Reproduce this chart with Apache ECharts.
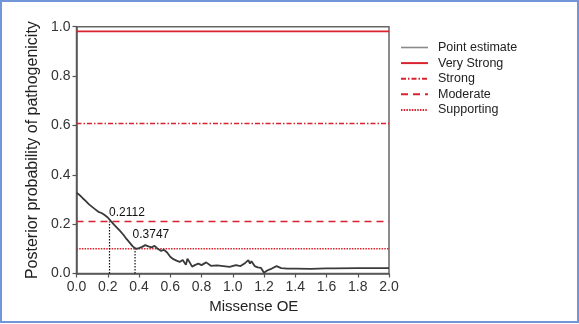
<!DOCTYPE html>
<html>
<head>
<meta charset="utf-8">
<script src="https://cdn.jsdelivr.net/npm/echarts@6/dist/echarts.min.js"></script>
<style>
  html, body { margin: 0; padding: 0; background: #ffffff; }
  #chart { width: 579px; height: 324px; }
</style>
</head>
<body>
<div id="chart"></div>
<script>
// Posterior probability of pathogenicity versus missense observed/expected ratio
const oeValues = [0, 0.01, 0.02, 0.03, 0.04, 0.05, 0.06, 0.07, 0.08, 0.09, 0.10, 0.12, 0.14, 0.16, 0.18, 0.20,
  0.22, 0.24, 0.26, 0.28, 0.30, 0.32, 0.34, 0.36, 0.38, 0.40, 0.42, 0.44, 0.46, 0.48, 0.50, 0.52, 0.54, 0.56,
  0.58, 0.60, 0.62, 0.64, 0.66, 0.68, 0.70, 0.71, 0.72, 0.74, 0.76, 0.78, 0.80, 0.83, 0.86, 0.90, 0.94, 0.98,
  1.02, 1.05, 1.08, 1.10, 1.11, 1.12, 1.14, 1.16, 1.18, 1.20, 1.22, 1.25, 1.28, 1.31, 1.35, 1.40, 1.50, 1.60,
  1.65, 1.80, 2.00];
const probValues = [0.327, 0.325, 0.318, 0.310, 0.305, 0.300, 0.293, 0.288, 0.280, 0.275, 0.270, 0.260, 0.250,
  0.245, 0.237, 0.227, 0.212, 0.198, 0.185, 0.172, 0.157, 0.140, 0.125, 0.110, 0.100, 0.103, 0.108, 0.115,
  0.110, 0.106, 0.112, 0.100, 0.092, 0.096, 0.085, 0.068, 0.058, 0.052, 0.047, 0.055, 0.035, 0.060, 0.050,
  0.028, 0.035, 0.040, 0.034, 0.045, 0.031, 0.033, 0.030, 0.027, 0.034, 0.030, 0.043, 0.054, 0.040, 0.050,
  0.030, 0.025, 0.023, 0.003, 0.012, 0.020, 0.030, 0.022, 0.020, 0.020, 0.019, 0.021, 0.021, 0.022, 0.022];

// Evidence-strength thresholds
const thresholdNames = ['Very Strong', 'Strong', 'Moderate', 'Supporting'];
const thresholdValues = [0.981, 0.608, 0.211, 0.100];

// Missense OE cut-offs where the estimate crosses Moderate and Supporting
const cutOE = [0.2112, 0.3747];
const cutProb = [0.211, 0.100];
const cutLabels = ['0.2112', '0.3747'];

const axisTicks = [0, 0.2, 0.4, 0.6, 0.8, 1.0];

const RED = '#d9232e';
const FONT = '"Liberation Sans", Arial, Helvetica, sans-serif';
const thresholdDash = ['solid', [5, 2, 1.5, 2], [7, 5], [1.5, 1.2]];
const cutLabelPos = [[0, -14], [-2, -20]];

const series = [{
  name: 'Point estimate',
  type: 'line',
  data: oeValues.map((x, i) => [x, probValues[i]]),
  showSymbol: false,
  symbol: 'none',
  color: '#888',
  lineStyle: { width: 1.8, color: '#3a3a3a' },
  z: 5
}];

thresholdNames.forEach((name, i) => {
  series.push({
    name: name,
    type: 'line',
    data: [[0, thresholdValues[i]], [2, thresholdValues[i]]],
    symbol: 'none',
    color: RED,
    lineStyle: { width: 1.6, color: RED, type: thresholdDash[i] },
    z: 3
  });
});

cutOE.forEach((x, i) => {
  series.push({
    name: 'cut' + i,
    type: 'line',
    data: [[x, 0], [x, cutProb[i]]],
    symbol: 'none',
    lineStyle: { width: 1.2, color: '#111', type: [1.5, 1.5] },
    z: 4
  });
  series.push({
    name: 'cutLabel' + i,
    type: 'scatter',
    data: [[x, cutProb[i]]],
    symbolSize: 1,
    itemStyle: { color: 'rgba(0,0,0,0)' },
    label: {
      show: true,
      formatter: cutLabels[i],
      position: cutLabelPos[i],
      align: 'left',
      verticalAlign: 'top',
      fontSize: 12,
      fontFamily: FONT,
      color: '#111',
      opacity: 1
    },
    silent: true,
    z: 6
  });
});

const chart = echarts.init(document.getElementById('chart'), null, { renderer: 'canvas' });
chart.setOption({
  animation: false,
  backgroundColor: '#ffffff',
  grid: {
    left: 76.5, right: 190, top: 26.7, bottom: 50.5,
    show: true, borderColor: '#666', borderWidth: 1.5, backgroundColor: 'transparent'
  },
  legend: {
    data: [{ name: 'Point estimate', lineStyle: { color: '#8a8a8a', width: 1.6 } }].concat(thresholdNames),
    orient: 'vertical',
    left: 395,
    top: 36,
    itemWidth: 27,
    itemHeight: 14,
    itemGap: 2.6,
    itemStyle: { opacity: 0 },
    textStyle: { fontSize: 12.5, fontFamily: FONT, color: '#222', padding: [0, 0, 0, 5] }
  },
  xAxis: {
    type: 'value',
    min: 0, max: 2, interval: 0.2,
    name: 'Missense OE',
    nameLocation: 'middle',
    nameGap: 24,
    nameTextStyle: { fontSize: 15, fontFamily: FONT, color: '#222', padding: [0, 0, 0, 42] },
    axisLine: { show: true, onZero: false, lineStyle: { color: '#555', width: 1.5 } },
    axisTick: { show: true, length: 4, lineStyle: { color: '#555', width: 1.2 } },
    axisLabel: { fontSize: 14, fontFamily: FONT, color: '#333', margin: 7, formatter: v => v.toFixed(1) },
    splitLine: { show: false }
  },
  yAxis: {
    type: 'value',
    min: 0, max: 1, interval: 0.2,
    name: 'Posterior probability of pathogenicity',
    nameLocation: 'middle',
    nameGap: 27,
    nameTextStyle: { fontSize: 16, fontFamily: FONT, color: '#222' },
    axisLine: { show: true, onZero: false, lineStyle: { color: '#555', width: 1.5 } },
    axisTick: { show: true, length: 4, lineStyle: { color: '#555', width: 1.2 } },
    axisLabel: {
      fontSize: 14, fontFamily: FONT, color: '#333', margin: 6,
      formatter: v => (axisTicks.some(t => Math.abs(t - v) < 1e-9) ? v.toFixed(1) : '')
    },
    splitLine: { show: false }
  },
  graphic: [{
    type: 'rect',
    shape: { x: 1, y: 1, width: 577, height: 321 },
    style: { fill: 'none', stroke: '#7196d9', lineWidth: 2 },
    silent: true,
    z: 100
  }],
  series: series
});
</script>
</body>
</html>
